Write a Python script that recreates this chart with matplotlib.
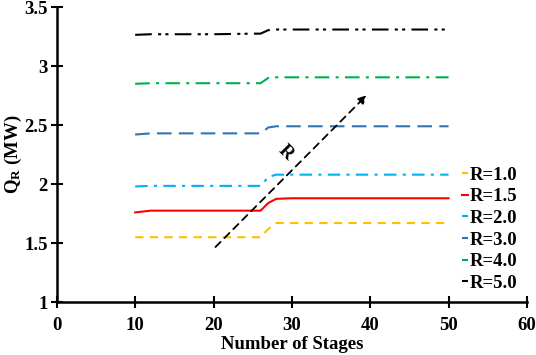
import matplotlib
matplotlib.use("Agg")
import matplotlib.pyplot as plt

plt.rcParams['font.family'] = 'Liberation Serif'
plt.rcParams['font.weight'] = 'bold'
plt.rcParams['mathtext.fontset'] = 'custom'
plt.rcParams['mathtext.rm'] = 'Liberation Serif:bold'
plt.rcParams['mathtext.it'] = 'Liberation Serif:italic:bold'
plt.rcParams['mathtext.bf'] = 'Liberation Serif:bold'

# number of stages
stages = [10, 12, 15, 20, 25, 26, 27, 28, 30, 35, 40, 45, 50]

q_r10 = [1.55, 1.55, 1.55, 1.55, 1.55, 1.55, 1.62, 1.67, 1.67, 1.67, 1.67, 1.67, 1.67]
q_r15 = [1.76, 1.775, 1.775, 1.775, 1.775, 1.775, 1.84, 1.875, 1.88, 1.88, 1.88, 1.88, 1.88]
q_r20 = [1.98, 1.985, 1.985, 1.985, 1.985, 1.985, 2.06, 2.08, 2.08, 2.08, 2.08, 2.08, 2.08]
q_r30 = [2.42, 2.43, 2.43, 2.43, 2.43, 2.43, 2.48, 2.49, 2.49, 2.49, 2.49, 2.49, 2.49]
q_r40 = [2.85, 2.855, 2.855, 2.855, 2.855, 2.855, 2.9, 2.905, 2.905, 2.905, 2.905, 2.905, 2.905]
q_r50 = [3.265, 3.27, 3.27, 3.27, 3.275, 3.275, 3.305, 3.31, 3.31, 3.31, 3.31, 3.31, 3.31]

labels = ['R=1.0', 'R=1.5', 'R=2.0', 'R=3.0', 'R=4.0', 'R=5.0']
colors = ['#FFC000', '#FF0000', '#00B0F0', '#2E75B6', '#00B050', '#000000']
dashes = [(4, 3), (), (6, 3, 1.5, 3), (7, 3.5), (7, 3, 1.5, 3), (8, 3, 1.5, 2, 1.5, 3)]
series = [q_r10, q_r15, q_r20, q_r30, q_r40, q_r50]

fs = 13.5

fig = plt.figure(figsize=(5.36, 3.55), dpi=100)
ax = fig.add_axes([0.106, 0.149, 0.877, 0.831])

for y, lab, c, d in zip(series, labels, colors, dashes):
    line, = ax.plot(stages, y, color=c, lw=1.5, label=lab)
    if d:
        line.set_dashes(d)

# trend arrow
ax.annotate('', xy=(39.8, 2.77), xytext=(20, 1.45),
            arrowprops=dict(arrowstyle='-|>', color='black', lw=1.3,
                            linestyle=(0, (4, 3)), mutation_scale=12))
ax.text(29.2, 2.27, 'R', rotation=-45, fontsize=fs, fontweight='bold',
        ha='center', va='center')

ax.set_xlim(0, 60)
ax.set_ylim(1, 3.5)
ax.set_xticks(range(0, 61, 10))
ax.set_yticks([1, 1.5, 2, 2.5, 3, 3.5])
ax.set_yticklabels(['1', '1.5', '2', '2.5', '3', '3.5'])
ax.spines['top'].set_visible(False)
ax.spines['right'].set_visible(False)
ax.spines['left'].set_linewidth(1.8)
ax.spines['bottom'].set_linewidth(1.8)
ax.tick_params(direction='inout', length=9, width=1.5, labelsize=fs, pad=2)
ax.tick_params(axis='x', pad=6)
for t in ax.get_xticklabels() + ax.get_yticklabels():
    t.set_fontweight('bold')

ax.set_xlabel('Number of Stages', fontsize=fs, fontweight='bold', labelpad=2)
ax.set_ylabel(r'Q$_{\mathrm{R}}$ (MW)', fontsize=fs, fontweight='bold', labelpad=0)

leg = fig.legend(loc='upper left', bbox_to_anchor=(0.831, 0.578), frameon=False,
                 handlelength=0.3, handletextpad=0.1, labelspacing=0.24,
                 prop={'size': fs, 'weight': 'bold'})

fig.savefig('out.png', dpi=100)
